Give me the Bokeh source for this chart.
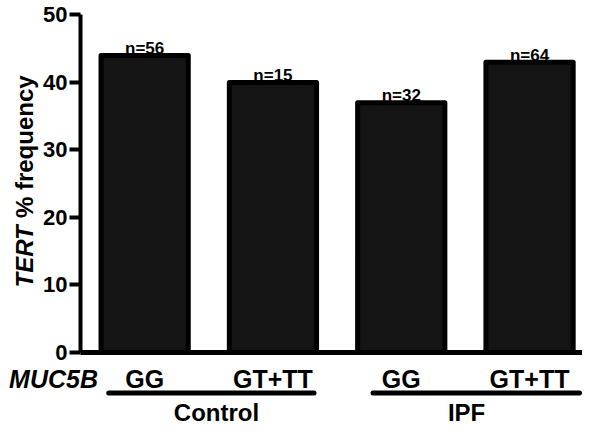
from bokeh.plotting import figure
from bokeh.models import Range1d, FixedTicker, Label, ColumnDataSource
from bokeh.core.properties import value
from bokeh.embed import file_html
from bokeh.resources import INLINE

# ---- data ----
genotypes = ["GG", "GT+TT", "GG", "GT+TT"]
groups = ["Control", "IPF"]
tert_freq = [44, 40, 37, 43]
n_labels = ["n=56", "n=15", "n=32", "n=64"]
y_ticks = [0, 10, 20, 30, 40, 50]

FONT = "Liberation Sans"
xs = list(range(len(genotypes)))

X0, X1 = -1.1235, 3.4127
Y0, Y1 = -11.556, 52.148

p = figure(width=582, height=430, output_backend="svg", toolbar_location=None,
           x_range=Range1d(X0, X1), y_range=Range1d(Y0, Y1),
           x_axis_location=None,
           min_border_left=0, min_border_right=0, min_border_top=0, min_border_bottom=0)
p.outline_line_color = None
p.grid.visible = False
p.background_fill_color = "white"

bars = ColumnDataSource(dict(x=xs, top=tert_freq, ntop=[v + 1.0 for v in tert_freq],
                             n=n_labels, g=genotypes))
p.vbar(x="x", top="top", bottom=0, width=0.68, source=bars,
       fill_color="#141414", line_color="black", line_width=5, line_join="round")

p.text(x="x", y="ntop", text="n", source=bars, text_align="center",
       text_baseline="alphabetic", text_font=value(FONT),
       text_font_style="bold", text_font_size="17px", text_color="black")

# x-axis line at zero
p.segment(x0=[-0.5], x1=[X1], y0=[0], y1=[0], line_color="black", line_width=5)

# y axis
ya = p.yaxis[0]
ya.fixed_location = -0.5
ya.ticker = FixedTicker(ticks=y_ticks)
ya.bounds = (0, 50)
ya.axis_line_width = 4
ya.axis_line_color = "black"
ya.major_tick_line_width = 4
ya.major_tick_out = 11
ya.major_tick_in = 0
ya.minor_tick_line_color = None
ya.major_label_text_font = FONT
ya.major_label_text_font_style = "bold"
ya.major_label_text_font_size = "22px"
ya.major_label_text_color = "black"
ya.major_label_standoff = 2

# genotype labels
p.text(x="x", y=-3.95, text="g", source=bars, text_align="center",
       text_baseline="middle", text_font=value(FONT), text_font_style="bold",
       text_font_size="25px", text_color="black")

# group underlines and names
grp = ColumnDataSource(dict(x0=[-0.28, 1.78], x1=[1.32, 3.39], xc=[0.56, 2.509], name=groups))
p.segment(x0="x0", x1="x1", y0=-6.0, y1=-6.0, source=grp, line_color="black",
          line_width=5, line_cap="round")
p.text(x="xc", y=-8.95, text="name", source=grp, text_align="center",
       text_baseline="middle", text_font=value(FONT), text_font_style="bold",
       text_font_size="24px", text_color="black")

# MUC5B label
p.add_layout(Label(x=-0.7104, y=-3.95, text="MUC5B", text_align="center",
                   text_baseline="middle", text_font=FONT, text_font_style="bold italic",
                   text_font_size="25px", text_color="black"))

# y axis title (mixed italic)
p.add_layout(Label(x=-0.9365, y=9.63, text="TERT", angle=1.5708, text_align="left",
                   text_baseline="alphabetic", text_font=FONT, text_font_style="bold italic",
                   text_font_size="24px", text_color="black"))
p.add_layout(Label(x=-0.9365, y=19.91, text="% frequency", angle=1.5708, text_align="left",
                   text_baseline="alphabetic", text_font=FONT, text_font_style="bold",
                   text_font_size="24px", text_color="black"))

open("out.html", "w").write(file_html(p, INLINE))
